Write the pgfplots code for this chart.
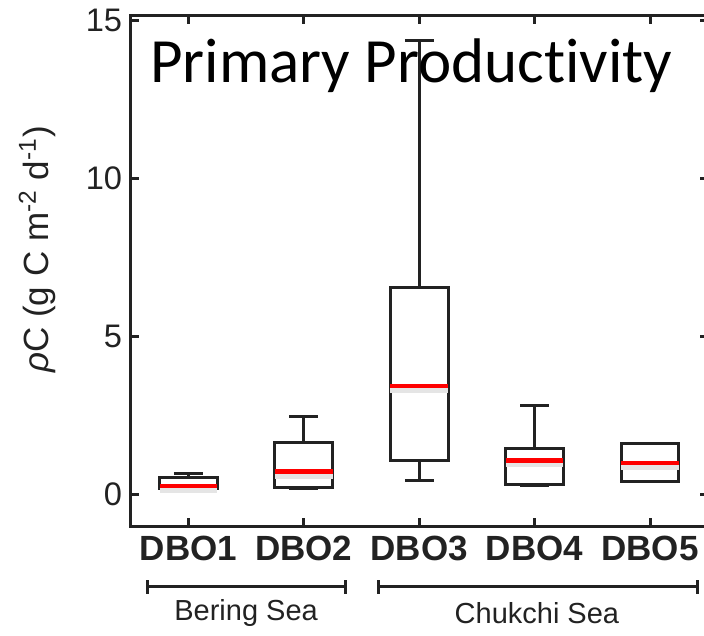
\documentclass[border=0pt]{standalone}
\usepackage{fontspec}
\setmainfont{Liberation Sans}
\newfontfamily\titlefont[Ligatures=NoCommon]{Carlito}
\usepackage{pgfplots}
\pgfplotsset{compat=1.18}
\usepgfplotslibrary{statistics}
\definecolor{ink}{HTML}{222222}
\begin{document}
\begin{tikzpicture}
\begin{axis}[
  scale only axis,
  width=288.5pt, height=255pt,
  xmin=0.5, xmax=5.5, ymin=-1, ymax=15.14,
  xtick={1,2,3,4,5},
  xticklabels={DBO1,DBO2,DBO3,DBO4,DBO5},
  ytick={0,5,10,15},
  /pgf/number format/assume math mode=true,
  tick align=inside,
  major tick length=4pt,
  axis line style={ink, line width=1.5pt},
  every tick/.style={ink, line width=1.5pt},
  ticklabel style={text=ink},
  yticklabel style={font=\fontsize{16.3pt}{18pt}\selectfont, xshift=-0.8pt},
  xticklabel style={font=\fontsize{17.5pt}{19pt}\selectfont\bfseries, yshift=-1.5pt},
  ylabel={\textit{ρ}C (g C m\textsuperscript{-2} d\textsuperscript{-1})},
  every axis y label/.style={at={(axis description cs:-0.162,0.542)}, rotate=90, anchor=center, font=\fontsize{17.5pt}{19pt}\selectfont, text=ink},
  clip=false,
  boxplot/draw direction=y,
  boxplot/box extend=0.5,
  boxplot/whisker extend=0.25,
  boxplot/every median/.style={draw=red, line width=2.3pt, preaction={draw=black!10, line width=2.6pt, transform canvas={yshift=-2.2pt}}},
]
\addplot[ink, line width=1.5pt, boxplot prepared={lower whisker=0.10, lower quartile=0.18, median=0.26, upper quartile=0.55, upper whisker=0.66, draw position=1}] coordinates {};
\addplot[ink, line width=1.5pt, boxplot prepared={lower whisker=0.18, lower quartile=0.23, median=0.72, upper quartile=1.64, upper whisker=2.47, draw position=2}] coordinates {};
\addplot[ink, line width=1.5pt, boxplot prepared={lower whisker=0.44, lower quartile=1.08, median=3.43, upper quartile=6.55, upper whisker=14.38, draw position=3}] coordinates {};
\addplot[ink, line width=1.5pt, boxplot prepared={lower whisker=0.29, lower quartile=0.32, median=1.08, upper quartile=1.45, upper whisker=2.80, draw position=4}] coordinates {};
\addplot[ink, line width=1.5pt, boxplot prepared={lower whisker=0.41, lower quartile=0.41, median=0.99, upper quartile=1.61, upper whisker=1.61, draw position=5}] coordinates {};
\node[anchor=base, font=\titlefont\fontsize{31.5pt}{36pt}\selectfont, inner sep=0pt] at (axis cs:2.93,13.02) {Primary Productivity};
\draw[ink, line width=1.5pt] (axis cs:0.642,-2.92) -- (axis cs:2.358,-2.92)
  ([yshift=-3.5pt]axis cs:0.642,-2.92) -- ([yshift=3.5pt]axis cs:0.642,-2.92)
  ([yshift=-3.5pt]axis cs:2.358,-2.92) -- ([yshift=3.5pt]axis cs:2.358,-2.92);
\draw[ink, line width=1.5pt] (axis cs:2.644,-2.92) -- (axis cs:5.408,-2.92)
  ([yshift=-3.5pt]axis cs:2.644,-2.92) -- ([yshift=3.5pt]axis cs:2.644,-2.92)
  ([yshift=-3.5pt]axis cs:5.408,-2.92) -- ([yshift=3.5pt]axis cs:5.408,-2.92);
\node[font=\fontsize{14.5pt}{17pt}\selectfont, text=ink] at (axis cs:1.5,-3.75) {Bering Sea};
\node[font=\fontsize{14.5pt}{17pt}\selectfont, text=ink] at (axis cs:4.02,-3.75) {Chukchi Sea};
\end{axis}
\pgfresetboundingbox
\useasboundingbox ([xshift=-65.35pt,yshift=-54.5pt]current axis.south west) rectangle ([xshift=-1.85pt,yshift=8pt]current axis.north east);
\end{tikzpicture}
\end{document}
